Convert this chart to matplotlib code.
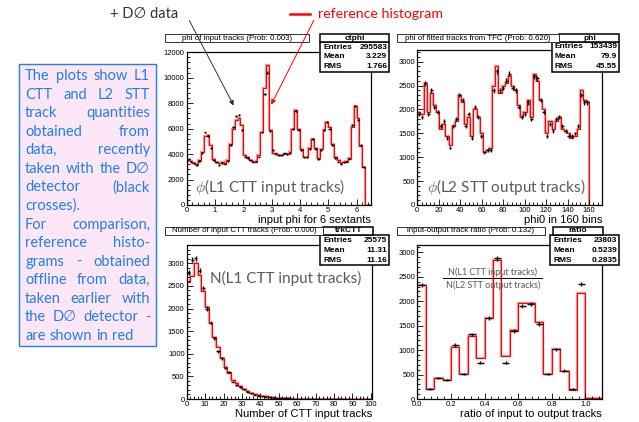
"""D0 L1 CTT / L2 STT monitoring slide: data vs reference histograms."""

import numpy as np
import matplotlib
matplotlib.use("Agg")
import matplotlib.pyplot as plt
from matplotlib.patches import Rectangle, FancyArrowPatch
from matplotlib.lines import Line2D
from matplotlib.ticker import MultipleLocator

W, H = 639, 422

plt.rcParams["font.family"] = ["Liberation Sans", "DejaVu Sans"]
plt.rcParams["mathtext.fontset"] = "cm"

BEAMER = ["Lato", "DejaVu Sans"]
BLUE = "#1f7ff5"
GRAY = "#5a5a5a"

# --- phi of input tracks (bins of 0.1, 0..6.5) ---
phi_ref = [3600, 3450, 3300, 3200, 3500, 4200, 5400, 5500, 4700, 3600,
           3400, 3300, 3350, 3250, 3500, 4800, 6000, 6700, 6800, 6300,
           3900, 3800, 3550, 3400, 3450, 3900, 5700, 9200, 11000, 5900,
           4100, 4000, 3950, 3900, 4000, 4000, 4200, 6000, 7500, 6000,
           4400, 3800, 3800, 4500, 5200, 4500, 3700, 4400, 5900, 6500,
           6100, 4800, 3800, 3500, 3300, 3400, 3450, 3700, 6100, 7800,
           6800, 4600, 3000, 0, 0]
phi_data = [3500, 3400, 3300, 3150, 3450, 4100, 5700, 5400, 4500, 3500,
            3350, 3150, 3300, 3250, 3450, 4700, 6100, 7000, 7100, 5900,
            3800, 3700, 3500, 3400, 3400, 3800, 5700, 8700, 10400, 5800,
            4300, 4050, 3950, 3900, 4050, 4000, 4050, 6000, 7400, 5900,
            4300, 3750, 3750, 4400, 5200, 4400, 3600, 4300, 5900, 6500,
            6000, 4700, 3700, 3400, 3200, 3350, 3400, 3650, 6300, 7800,
            6700, 4700, 3000, 0, 0]

# --- phi0 of fitted tracks (55 bins over 0..160) ---
phi0_ref = [1950, 1900, 2550, 1950, 2350, 2100, 1950, 1600, 1700, 1450,
            1250, 1650, 1750, 2300, 2150, 1700, 1850, 1450, 2000, 1850,
            1500, 1100, 1150, 1200, 2500, 2900, 2350, 2500, 2550, 2700,
            2500, 2400, 2100, 1850, 1950, 2200, 1850, 2750, 2600, 2200,
            2000, 1500, 1750, 1600, 1750, 1850, 1600, 1550, 1500, 1400,
            1450, 1600, 2400, 2200, 2150]
phi0_data = [1900, 1850, 2550, 1900, 2400, 2050, 1950, 1650, 1750, 1400,
             1200, 1650, 1800, 2300, 2200, 1650, 1900, 1400, 2050, 1850,
             1450, 1100, 1150, 1150, 2400, 2800, 2400, 2450, 2600, 2750,
             2450, 2400, 2050, 1850, 1900, 2150, 1800, 2700, 2650, 2200,
             1950, 1450, 1700, 1550, 1800, 1850, 1650, 1550, 1450, 1450,
             1500, 1650, 2300, 2150, 2150]

# --- number of CTT input tracks (bins of 2, 0..100) ---
ntrk_ref = [2580, 2720, 3000, 2750, 2380, 2040, 1680, 1380, 1140, 900,
            700, 570, 430, 350, 280, 220, 175, 140, 110, 88,
            70, 56, 45, 36, 29, 23, 18, 14, 11, 9,
            7, 6, 5, 4, 3, 3, 2, 2, 2, 1,
            1, 1, 1, 1, 0, 0, 0, 0, 0, 0]
ntrk_data = [2790, 3080, 3110, 2840, 2450, 2000, 1690, 1340, 1050, 900,
             690, 590, 385, 310, 270, 215, 160, 125, 98, 77,
             60, 47, 38, 30, 24, 19, 15, 12, 9, 7,
             6, 5, 4, 3, 2, 2, 2, 1, 1, 1,
             1, 1, 1, 0, 0, 0, 0, 0, 0, 0]

# --- input/output ratio (bins of 0.05, 0..1.1) ---
ratio_ref = [2330, 205, 423, 390, 1057, 505, 1295, 832, 1663, 2843, 880,
             1411, 1956, 1956, 1568, 505, 1016, 580, 184, 2161, 20, 27]
ratio_data = [2330, 205, 420, 390, 1105, 505, 1322, 743, 1663, 2877, 743,
              1397, 1909, 1943, 1534, 505, 1016, 580, 205, 2352, 0, 0]

info_lines = ["The plots show L1", "CTT and L2 STT", "track quantities",
              "obtained from", "data, recently", "taken with the D\u2205",
              "detector (black", "crosses).", "For comparison,",
              "reference histo-", "grams - obtained", "offline from data,",
              "taken earlier with", "the D\u2205 detector -", "are shown in red"]
para_ends = [7, 14]

fig = plt.figure(figsize=(W / 100, H / 100), dpi=100)


def fx(x):
    return x / W


def fy(y):
    return 1 - y / H


def add_box(x0, y0, x1, y1, lw=0.8, ec="black", fc="white", z=5):
    fig.add_artist(Rectangle((fx(x0), fy(y1)), fx(x1) - fx(x0), fy(y0) - fy(y1),
                             transform=fig.transFigure, lw=lw, ec=ec, fc=fc, zorder=z))


def panel(rect, edges, ref, data, xlim, ylim, xmaj, ymaj):
    l, t, r, b = rect
    ax = fig.add_axes([fx(l), fy(b), fx(r) - fx(l), fy(t) - fy(b)])
    edges = np.asarray(edges, dtype=float)
    ref = np.asarray(ref, dtype=float)
    data = np.asarray(data, dtype=float)
    ax.stairs(ref, edges, baseline=0, color="#ff9a9a", lw=1.6)
    ax.stairs(ref, edges, baseline=0, color="#ff0000", lw=0.8)
    centers = 0.5 * (edges[:-1] + edges[1:])
    half = 0.5 * np.diff(edges)
    m = data > 0
    ax.errorbar(centers[m], data[m], xerr=half[m] * 0.85, yerr=np.sqrt(data[m]),
                fmt="none", ecolor="black", elinewidth=1.0, capsize=0)
    ax.set_xlim(*xlim)
    ax.set_ylim(*ylim)
    ax.xaxis.set_major_locator(MultipleLocator(xmaj))
    ax.xaxis.set_minor_locator(MultipleLocator(xmaj / 5))
    ax.yaxis.set_major_locator(MultipleLocator(ymaj))
    ax.yaxis.set_minor_locator(MultipleLocator(ymaj / 5))
    ax.tick_params(direction="in", which="both", top=False, right=False,
                   labelsize=5.5, pad=1.5, width=0.6)
    ax.tick_params(which="major", length=4)
    ax.tick_params(which="minor", length=2)
    for s in ax.spines.values():
        s.set_linewidth(0.9)
    return ax


def title_and_stats(tbox, ttext, hbox, htext, sbox, rows):
    add_box(*sbox, lw=1.1)
    add_box(*hbox, lw=1.1)
    add_box(*tbox, lw=0.7, ec="#333333")
    fig.text(fx(0.5 * (tbox[0] + tbox[2])), fy(0.5 * (tbox[1] + tbox[3])), ttext,
             ha="center", va="center", fontsize=5.7, zorder=6)
    fig.text(fx(0.5 * (hbox[0] + hbox[2])), fy(0.5 * (hbox[1] + hbox[3])), htext,
             ha="center", va="center", fontsize=6.0, fontweight="bold", zorder=6)
    rh = (sbox[3] - sbox[1]) / 3
    for i, (lab, val) in enumerate(rows):
        yc = fy(sbox[1] + rh * (i + 0.5))
        fig.text(fx(sbox[0] + 3), yc, lab, ha="left", va="center",
                 fontsize=6.0, fontweight="bold", zorder=6)
        fig.text(fx(sbox[2] - 2), yc, val, ha="right", va="center",
                 fontsize=6.0, fontweight="bold", zorder=6)


# ---- panels ----
panel((186.7, 52.3, 370.7, 205), np.linspace(0, 6.5, 66), phi_ref, phi_data,
      (0, 6.5), (0, 12000), 1, 2000)
panel((417.3, 50, 602.3, 205), np.linspace(0, 160, 56), phi0_ref, phi0_data,
      (0, 172.4), (0, 3245), 20, 500)
panel((186.7, 245, 371.7, 399), np.linspace(0, 100, 51), ntrk_ref, ntrk_data,
      (0, 100.5), (0, 3404), 10, 500)
panel((417.3, 245, 602.3, 399), np.linspace(0, 1.1, 23), ratio_ref, ratio_data,
      (0, 1.1), (0, 3149), 0.2, 500)

title_and_stats((165, 34.3, 309, 42.3), "phi of input tracks (Prob: 0.003)",
                (320, 34.3, 389.3, 42.3), "ctphi", (320, 42.3, 389.3, 71.7),
                [("Entries", "295583"), ("Mean", "3.229"), ("RMS", "1.766")])
title_and_stats((396.7, 34.3, 559.3, 41.7), "phi of fitted tracks from TFC (Prob: 0.620)",
                (559.3, 34.3, 619.3, 41.7), "phi", (551.7, 41.7, 619.3, 71.7),
                [("Entries", "153439"), ("Mean", "79.9"), ("RMS", "45.55")])
title_and_stats((165, 226.7, 323.3, 235), "Number of input CTT tracks (Prob: 0.000)",
                (323.3, 226.7, 373, 235), "trkCTT", (320, 235, 389.3, 265),
                [("Entries", "25575"), ("Mean", "11.31"), ("RMS", "11.16")])
title_and_stats((396.7, 226.7, 545, 235), "input-output track ratio (Prob: 0.132)",
                (553, 226.7, 603, 235), "ratio", (550, 235, 619.3, 265),
                [("Entries", "23803"), ("Mean", "0.5239"), ("RMS", "0.2835")])

# axis titles (ROOT puts them at the right end)
fig.text(fx(371), fy(223), "input phi for 6 sextants", ha="right", va="baseline", fontsize=8)
fig.text(fx(602), fy(223), "phi0 in 160 bins", ha="right", va="baseline", fontsize=8)
fig.text(fx(372), fy(417), "Number of CTT input tracks", ha="right", va="baseline", fontsize=8)
fig.text(fx(602), fy(417), "ratio of input to output tracks", ha="right", va="baseline", fontsize=8)

# big gray labels inside the pads
fig.text(fx(195), fy(191.7), r"$\phi$(L1 CTT input tracks)", color=GRAY,
         fontsize=11, family=BEAMER, va="baseline")
fig.text(fx(426.7), fy(191.7), r"$\phi$(L2 STT output tracks)", color=GRAY,
         fontsize=11, family=BEAMER, va="baseline")
fig.text(fx(210), fy(283), "N(L1 CTT input tracks)", color=GRAY,
         fontsize=11, family=BEAMER, va="baseline")
fig.text(fx(493), fy(275), "N(L1 CTT input tracks)", color=GRAY,
         fontsize=6.5, family=BEAMER, ha="center", va="baseline")
fig.text(fx(493), fy(288.5), "N(L2 STT output tracks)", color=GRAY,
         fontsize=6.5, family=BEAMER, ha="center", va="baseline")
fig.add_artist(Line2D([fx(443), fx(542)], [fy(278.3), fy(278.3)], color="black",
                      lw=0.7, transform=fig.transFigure))

# legend-like annotations on top
fig.text(fx(110), fy(18), "+ D\u2205 data", color="#333333", fontsize=10.5,
         family=BEAMER, va="baseline")
fig.add_artist(Line2D([fx(290), fx(310)], [fy(13.5), fy(13.5)], color="red",
                      lw=1.8, transform=fig.transFigure))
fig.text(fx(318), fy(18), "reference histogram", color="red", fontsize=10.2,
         family=BEAMER, va="baseline")
fig.add_artist(FancyArrowPatch((fx(188), fy(18)), (fx(235), fy(108)),
                               transform=fig.transFigure, arrowstyle="-|>",
                               mutation_scale=7, lw=0.7, color="#333333", zorder=7))
fig.add_artist(FancyArrowPatch((fx(315), fy(18)), (fx(270), fy(107)),
                               transform=fig.transFigure, arrowstyle="-|>",
                               mutation_scale=7, lw=0.7, color="red", zorder=7))

# ---- justified info box on the left ----
add_box(19, 64, 156, 346, lw=1.0, ec=BLUE, fc="#fde6f6", z=1)
renderer = fig.canvas.get_renderer()
x_left, x_right, y0, dy = 25, 150, 80, 18.57
for i, line in enumerate(info_lines):
    words = line.split()
    y = y0 + i * dy
    txts = [fig.text(0, fy(y), w, color=BLUE, fontsize=10.5, family=BEAMER,
                     va="baseline", zorder=3) for w in words]
    widths = [t.get_window_extent(renderer).width for t in txts]
    if i in para_ends or len(words) == 1:
        gap = 4.0
    else:
        gap = (x_right - x_left - sum(widths)) / (len(words) - 1)
    x = x_left
    for t, wd in zip(txts, widths):
        t.set_x(fx(x))
        x += wd + gap

fig.savefig("out.png", dpi=100)
